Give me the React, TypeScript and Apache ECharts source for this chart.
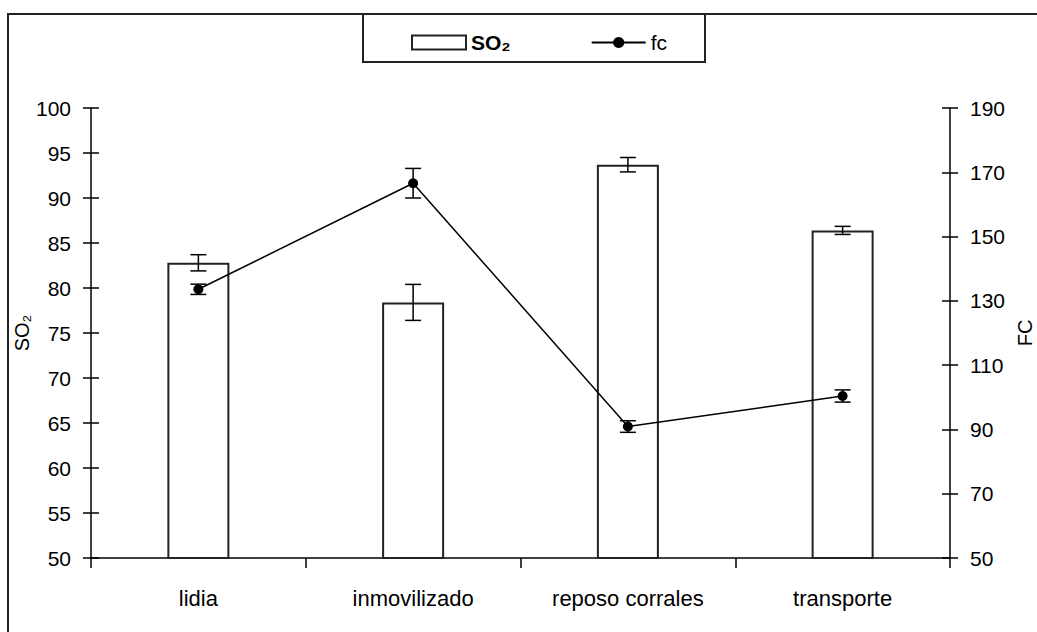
import React, { useEffect, useRef } from "react";
import * as echarts from "echarts";

const categories = ["lidia", "inmovilizado", "reposo corrales", "transporte"];
const so2Values = [82.8, 78.4, 93.7, 86.4];
const so2Errors = [0.9, 2.0, 0.8, 0.45];
const fcValues = [133.6, 166.6, 90.9, 100.4];
const fcErrors = [1.6, 4.6, 1.8, 1.9];
const so2Ticks = { min: 50, max: 100, interval: 5 };
const fcTicks = { min: 50, max: 190, interval: 20 };

const FONT = "'Liberation Sans', Arial, sans-serif";
const INK = "#000";

function errorItem(capHalf: number) {
  return (params: any, api: any) => {
    const x = api.value(0);
    const lo = api.coord([x, api.value(1)]);
    const hi = api.coord([x, api.value(2)]);
    const style = { stroke: INK, lineWidth: 1.5 };
    return {
      type: "group",
      children: [
        { type: "line", shape: { x1: lo[0], y1: lo[1], x2: hi[0], y2: hi[1] }, style },
        { type: "line", shape: { x1: lo[0] - capHalf, y1: lo[1], x2: lo[0] + capHalf, y2: lo[1] }, style },
        { type: "line", shape: { x1: hi[0] - capHalf, y1: hi[1], x2: hi[0] + capHalf, y2: hi[1] }, style },
      ],
    };
  };
}

export default function App() {
  const ref = useRef<HTMLDivElement>(null);
  useEffect(() => {
    if (!ref.current) return;
    const chart = echarts.init(ref.current, null, { renderer: "svg" });
    const so2Err = so2Values.map((v, i) => [i, v - so2Errors[i], v + so2Errors[i]]);
    const fcErr = fcValues.map((v, i) => [i, v - fcErrors[i], v + fcErrors[i]]);
    const yLabel = { color: INK, fontSize: 21, fontFamily: FONT };
    chart.setOption({
      animation: false,
      backgroundColor: "#fff",
      grid: { left: 91, right: 87, top: 108, bottom: 74, containLabel: false, outerBoundsMode: "none" },
      legend: {
        left: 406,
        top: 27,
        itemWidth: 54,
        itemHeight: 14,
        itemGap: 80,
        data: [
          { name: "SO₂", icon: "rect", textStyle: { fontWeight: "bold" } },
          { name: "fc" },
        ],
        textStyle: { color: INK, fontSize: 21, fontFamily: FONT },
        selectedMode: false,
      },
      graphic: [
        { type: "rect", shape: { x: 8, y: 14, width: 1060, height: 660 }, style: { fill: "none", stroke: "#222", lineWidth: 2 }, silent: true },
        { type: "rect", shape: { x: 363, y: 14, width: 342, height: 48 }, style: { fill: "#fff", stroke: "#222", lineWidth: 2 }, silent: true, z: -1 },
      ],
      xAxis: {
        type: "category",
        data: categories,
        axisLine: { lineStyle: { color: INK, width: 1.5 } },
        axisTick: { show: true, interval: 0, length: 10, lineStyle: { color: INK, width: 1.5 } },
        axisLabel: { color: INK, fontSize: 22, fontFamily: FONT, margin: 29, interval: 0 },
      },
      yAxis: [
        {
          type: "value",
          position: "left",
          ...so2Ticks,
          name: "SO₂",
          nameLocation: "middle",
          nameGap: 59,
          nameMoveOverlap: false,
          nameRotate: 90,
          nameTextStyle: { color: INK, fontSize: 20, fontFamily: FONT },
          axisLine: { show: true, lineStyle: { color: INK, width: 1.5 } },
          axisTick: { show: true, length: 8, lineStyle: { color: INK, width: 1.5 } },
          axisLabel: { ...yLabel, margin: 20 },
          splitLine: { show: false },
        },
        {
          type: "value",
          position: "right",
          ...fcTicks,
          name: "FC",
          nameLocation: "middle",
          nameGap: 65,
          nameMoveOverlap: false,
          nameRotate: 90,
          nameTextStyle: { color: INK, fontSize: 20, fontFamily: FONT },
          axisLine: { show: true, lineStyle: { color: INK, width: 1.5 } },
          axisTick: { show: true, length: 8, lineStyle: { color: INK, width: 1.5 } },
          axisLabel: { ...yLabel, margin: 20 },
          splitLine: { show: false },
        },
        {
          type: "value",
          position: "left",
          ...so2Ticks,
          axisLine: { show: false },
          axisTick: { show: true, inside: true, length: 8, lineStyle: { color: INK, width: 1.5 } },
          axisLabel: { show: false },
          splitLine: { show: false },
        },
        {
          type: "value",
          position: "right",
          ...fcTicks,
          axisLine: { show: false },
          axisTick: { show: true, inside: true, length: 8, lineStyle: { color: INK, width: 1.5 } },
          axisLabel: { show: false },
          splitLine: { show: false },
        },
      ],
      series: [
        {
          name: "SO₂",
          type: "bar",
          yAxisIndex: 0,
          data: so2Values,
          barWidth: 62,
          itemStyle: { color: "#fff", borderColor: "#222", borderWidth: 2 },
        },
        {
          type: "custom",
          yAxisIndex: 0,
          data: so2Err,
          renderItem: errorItem(8),
          z: 3,
        },
        {
          name: "fc",
          type: "line",
          yAxisIndex: 1,
          data: fcValues,
          symbol: "circle",
          symbolSize: 10,
          itemStyle: { color: INK },
          lineStyle: { color: INK, width: 1.5 },
          z: 4,
        },
        {
          type: "custom",
          yAxisIndex: 1,
          data: fcErr,
          renderItem: errorItem(8),
          z: 5,
        },
      ],
    });
    return () => chart.dispose();
  }, []);
  return (
    <div
      ref={ref}
      style={{ position: "fixed", left: 0, top: 0, width: 1037, height: 632, background: "#fff" }}
    />
  );
}
